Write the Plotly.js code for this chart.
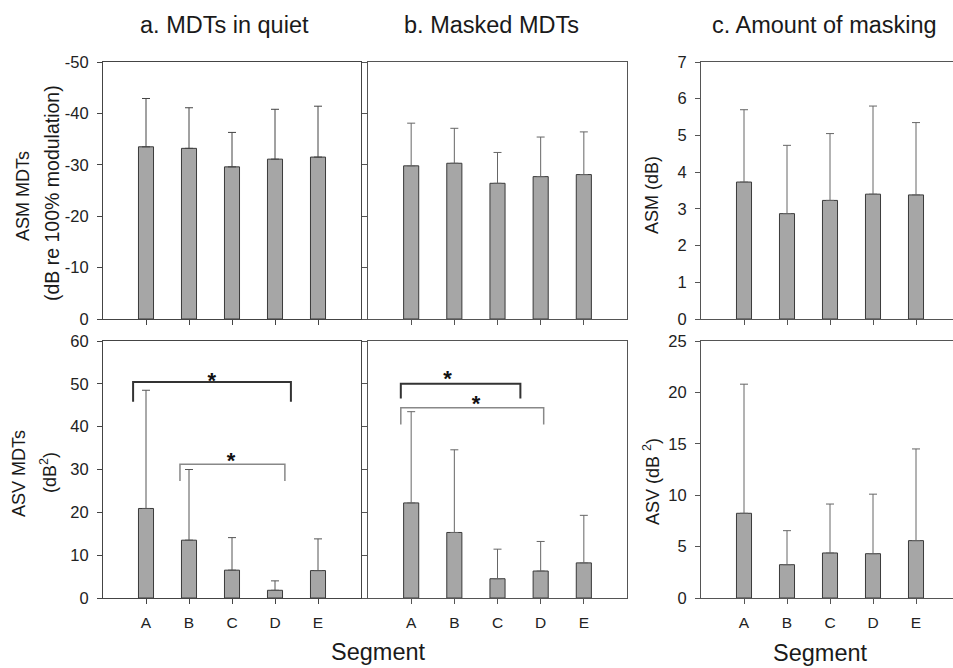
<!DOCTYPE html>
<html><head><meta charset="utf-8">
<script src="https://cdn.plot.ly/plotly-3.0.1.min.js"></script>
<style>html,body{margin:0;padding:0;background:#fff}</style>
</head><body><div id="chart" style="width:953px;height:668px"></div>
<script>
// ---- data ----
const segments = ['A','B','C','D','E'];
// a. MDTs in quiet
const asmQuiet   = [-33.5, -33.2, -29.6, -31.1, -31.5];
const asmQuietSD = [9.4, 7.9, 6.7, 9.7, 9.9];
const asvQuiet   = [20.9, 13.5, 6.5, 1.8, 6.4];
const asvQuietSD = [27.6, 16.5, 7.6, 2.2, 7.4];
// b. Masked MDTs
const asmMasked   = [-29.8, -30.3, -26.4, -27.7, -28.1];
const asmMaskedSD = [8.3, 6.8, 6.0, 7.7, 8.3];
const asvMasked   = [22.2, 15.3, 4.5, 6.3, 8.2];
const asvMaskedSD = [21.3, 19.3, 6.9, 6.9, 11.1];
// c. Amount of masking
const asmMasking   = [3.73, 2.87, 3.23, 3.40, 3.38];
const asmMaskingSD = [1.97, 1.86, 1.82, 2.40, 1.97];
const asvMasking   = [8.24, 3.24, 4.38, 4.31, 5.58];
const asvMaskingSD = [12.56, 3.31, 4.76, 5.79, 8.92];
// tick values / labels
const asmMdtTicks = [0, -10, -20, -30, -40, -50];
const asmMdtLabels = ['0', '-10', '-20', '-30', '-40', '-50'];
// significant pairwise differences (ASV)
const sigQuiet  = [{from:'A', to:'D', level:50.4}, {from:'B', to:'D', level:31.2}];
const sigMasked = [{from:'A', to:'C', level:50.0}, {from:'A', to:'D', level:44.4}];

// ---- styles ----
const W = 953, H = 668;
const FONT = 'Liberation Sans, Arial, Helvetica, sans-serif';
const xs = segments.map((s, i) => i + 1);
const zeros = segments.map(() => 0);
const bracketStyles = {
  quiet:  [{l:0.30, r:0.37, leg:4.6, color:'#333', width:2, sx:2.53, sy:0.0},
           {l:0.21, r:0.23, leg:3.9, color:'#888', width:1.5, sx:2.98, sy:0.35}],
  masked: [{l:0.24, r:0.53, leg:3.4, color:'#333', width:2, sx:1.84, sy:0.8},
           {l:0.24, r:0.07, leg:3.9, color:'#888', width:1.5, sx:2.50, sy:0.5}]
};

function bar(vals, sd, ax, negative, ecolor) {
  return {
    type:'bar', x: xs, y: vals, xaxis:'x'+ax, yaxis:'y'+ax, width:0.35,
    marker:{color:'#a6a6a6', line:{color:'#3a3a3a', width:1}},
    error_y:{type:'data', symmetric:false,
      array: negative ? zeros : sd, arrayminus: negative ? sd : zeros,
      color: ecolor, thickness:1, width:4},
    hoverinfo:'none', showlegend:false
  };
}

const traces = [
  bar(asmQuiet, asmQuietSD, '', true, '#444'),
  bar(asmMasked, asmMaskedSD, '2', true, '#666'),
  bar(asmMasking, asmMaskingSD, '3', false, '#666'),
  bar(asvQuiet, asvQuietSD, '4', false, '#555'),
  bar(asvMasked, asvMaskedSD, '5', false, '#666'),
  bar(asvMasking, asvMaskingSD, '6', false, '#666')
];

function brackets(sig, styles, ax) {
  sig.forEach((b, k) => {
    const st = styles[k];
    const i1 = segments.indexOf(b.from) + 1, i2 = segments.indexOf(b.to) + 1;
    const x0 = i1 - st.l, x1 = i2 + st.r;
    traces.push({type:'scatter', mode:'lines', xaxis:'x'+ax, yaxis:'y'+ax,
      x:[x0, x0, x1, x1], y:[b.level - st.leg, b.level, b.level, b.level - st.leg],
      line:{color:st.color, width:st.width}, hoverinfo:'none', showlegend:false});
    traces.push({type:'scatter', mode:'text', xaxis:'x'+ax, yaxis:'y'+ax,
      x:[st.sx], y:[b.level + st.sy], text:['*'], textposition:'middle center',
      textfont:{family:FONT, size:22, color:'#111', weight:'bold'}, hoverinfo:'none', showlegend:false});
  });
}
brackets(sigQuiet, bracketStyles.quiet, '4');
brackets(sigMasked, bracketStyles.masked, '5');

// domains in pixels
const colX = [[103, 361], [368, 627], [701, 953]];
const rowY = [[62, 319], [341, 598]];
const dx = p => [p[0]/W, p[1]/W];
const dy = p => [1 - p[1]/H, 1 - p[0]/H];
const idx = (col, row) => { const n = row*3 + col + 1; return n === 1 ? '' : String(n); };

function xAx(col, row, color) {
  const px = colX[col];
  const span = (px[1] - px[0]) / 43;
  return {domain: dx(px), anchor: 'y' + idx(col, row),
    range:[0, col === 2 ? span : 6], tickvals: xs, ticktext: segments,
    showticklabels: row === 1,
    ticks:'outside', ticklen:5, tickcolor:color, tickwidth:1,
    showline:true, linecolor:color, linewidth:1, mirror: true,
    showgrid:false, zeroline:false, fixedrange:true, ticklabelstandoff: 5,
    tickfont:{family:FONT, size:15.5, color:'#222'}};
}
function yAx(col, row, range, dtick, color, tv, tt) {
  const a = {domain: dy(rowY[row]), anchor: 'x' + idx(col, row),
    range: range, dtick: dtick, tick0: 0,
    ticks:'outside', ticklen:5, tickcolor:color, tickwidth:1,
    showticklabels: col !== 1, ticklabelstandoff: 5,
    showline:true, linecolor:color, linewidth:1, mirror: col !== 2,
    showgrid:false, zeroline:false, fixedrange:true,
    tickfont:{family:FONT, size:16.5, color:'#222'}};
  if (tv) { a.tickmode = 'array'; a.tickvals = tv; a.ticktext = tt; }
  return a;
}

const ann = [];
function txt(text, x, y, size, angle) {
  ann.push({text, x: x/W, y: 1 - y/H, xref:'paper', yref:'paper', showarrow:false,
    xanchor:'center', yanchor:'middle', textangle: angle || 0,
    font:{family:FONT, size, color:'#1a1a1a'}});
}
txt('a. MDTs in quiet', 224, 25, 23.5);
txt('b. Masked MDTs', 491, 25, 23.5);
txt('c. Amount of masking', 824, 25, 23.5);
txt('ASM MDTs', 23, 196, 18, -90);
txt('(dB re 100% modulation)', 52, 193, 19.5, -90);
txt('ASV MDTs', 19, 474, 18, -90);
txt('(dB<sup>2</sup>)', 48, 473, 18, -90);
txt('ASM (dB)', 652, 195, 18, -90);
txt('ASV (dB <sup>2</sup>)', 651, 482, 18, -90);
txt('Segment', 378, 652, 23.5);
txt('Segment', 820, 653, 23.5);

const layout = {
  width: W, height: H, margin:{l:0, r:0, t:0, b:0},
  paper_bgcolor:'#fff', plot_bgcolor:'rgba(0,0,0,0)', showlegend:false,
  xaxis: xAx(0, 0, '#444'), xaxis2: xAx(1, 0, '#555'), xaxis3: xAx(2, 0, '#555'),
  xaxis4: xAx(0, 1, '#444'), xaxis5: xAx(1, 1, '#555'), xaxis6: xAx(2, 1, '#555'),
  yaxis: yAx(0, 0, [0, -50], 10, '#444', asmMdtTicks, asmMdtLabels),
  yaxis2: yAx(1, 0, [0, -50], 10, '#555', asmMdtTicks, asmMdtLabels),
  yaxis3: yAx(2, 0, [0, 7], 1, '#555'),
  yaxis4: yAx(0, 1, [0, 60], 10, '#444'), yaxis5: yAx(1, 1, [0, 60], 10, '#555'),
  yaxis6: yAx(2, 1, [0, 25], 5, '#555'),
  annotations: ann
};
Plotly.newPlot('chart', traces, layout, {displayModeBar:false, staticPlot:true});
</script>
</body></html>
